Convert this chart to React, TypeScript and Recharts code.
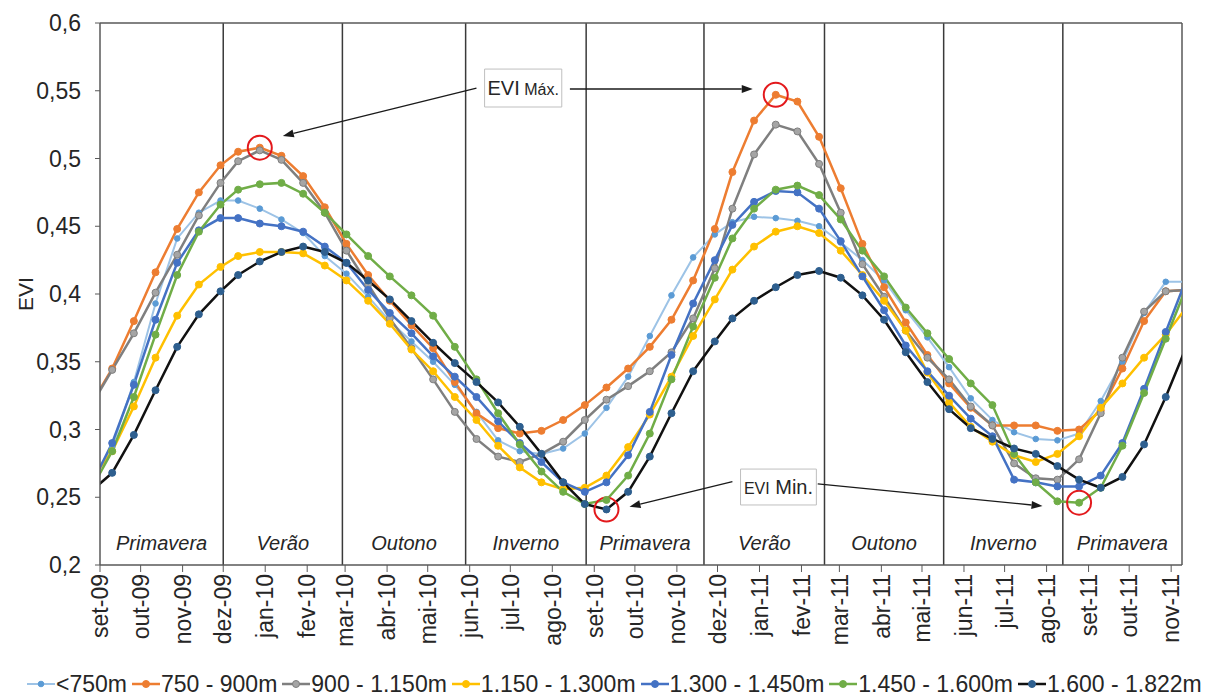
import React from 'react';
import { LineChart, Line, XAxis, YAxis, ReferenceLine, ReferenceArea, ReferenceDot, Legend } from 'recharts';

const FONT = '"Liberation Sans", Arial, sans-serif';
const INK = '#262626';

// composite dates, in days since 1 Sep 2009 (first and last fall just outside the axis)
const days = [
  -7, 9, 25, 41, 57, 73, 89, 102, 118, 134, 150, 166, 182, 198, 214, 230, 246, 262, 278, 294,
  310, 326, 342, 358, 374, 390, 406, 422, 438, 454, 467, 483, 499, 515, 531, 547, 563, 579, 595, 611,
  627, 643, 659, 675, 691, 707, 723, 739, 755, 771, 787, 803,
];

const evi750 = [
  0.262, 0.287, 0.335, 0.393, 0.441, 0.46, 0.469, 0.469, 0.463, 0.455, 0.445, 0.428, 0.415, 0.398, 0.38, 0.365, 0.35, 0.333, 0.313, 0.292,
  0.284, 0.282, 0.286, 0.297, 0.316, 0.339, 0.369, 0.399, 0.427, 0.444, 0.453, 0.457, 0.456, 0.454, 0.45, 0.438, 0.425, 0.41, 0.388, 0.368,
  0.346, 0.323, 0.307, 0.298, 0.293, 0.292, 0.297, 0.321, 0.35, 0.386, 0.409, 0.409,
];
const evi900 = [
  0.318, 0.345, 0.38, 0.416, 0.448, 0.475, 0.495, 0.505, 0.508, 0.502, 0.487, 0.464, 0.437, 0.414, 0.395, 0.377, 0.36, 0.335, 0.312, 0.301,
  0.297, 0.299, 0.307, 0.318, 0.331, 0.345, 0.361, 0.381, 0.41, 0.448, 0.49, 0.528, 0.547, 0.542, 0.516, 0.478, 0.437, 0.405, 0.379, 0.355,
  0.334, 0.316, 0.303, 0.303, 0.303, 0.299, 0.3, 0.314, 0.345, 0.38, 0.402, 0.403,
];
const evi1150 = [
  0.317, 0.344, 0.371, 0.401, 0.429, 0.458, 0.482, 0.498, 0.506, 0.499, 0.482, 0.46, 0.432, 0.407, 0.382, 0.36, 0.337, 0.313, 0.293, 0.28,
  0.276, 0.282, 0.291, 0.307, 0.322, 0.332, 0.343, 0.357, 0.382, 0.419, 0.463, 0.503, 0.525, 0.52, 0.496, 0.46, 0.422, 0.398, 0.373, 0.353,
  0.337, 0.317, 0.303, 0.275, 0.264, 0.263, 0.278, 0.312, 0.353, 0.387, 0.402, 0.403,
];
const evi1300 = [
  0.262, 0.284, 0.317, 0.353, 0.384, 0.407, 0.42, 0.428, 0.431, 0.431, 0.43, 0.421, 0.41, 0.395, 0.378, 0.359, 0.343, 0.324, 0.307, 0.288,
  0.272, 0.261, 0.256, 0.257, 0.266, 0.287, 0.311, 0.339, 0.369, 0.396, 0.418, 0.435, 0.446, 0.45, 0.445, 0.432, 0.414, 0.395, 0.373, 0.342,
  0.32, 0.302, 0.291, 0.281, 0.276, 0.282, 0.295, 0.316, 0.334, 0.353, 0.37, 0.391,
];
const evi1450 = [
  0.258, 0.29, 0.333, 0.381, 0.423, 0.447, 0.456, 0.456, 0.452, 0.45, 0.446, 0.435, 0.423, 0.403, 0.386, 0.371, 0.354, 0.339, 0.324, 0.306,
  0.29, 0.276, 0.261, 0.254, 0.261, 0.281, 0.313, 0.355, 0.393, 0.425, 0.451, 0.468, 0.476, 0.475, 0.463, 0.439, 0.413, 0.388, 0.362, 0.343,
  0.325, 0.308, 0.295, 0.263, 0.261, 0.258, 0.258, 0.266, 0.29, 0.33, 0.372, 0.413,
];
const evi1600 = [
  0.255, 0.284, 0.324, 0.37, 0.414, 0.446, 0.466, 0.477, 0.481, 0.482, 0.474, 0.46, 0.444, 0.428, 0.413, 0.399, 0.384, 0.361, 0.337, 0.312,
  0.289, 0.269, 0.254, 0.245, 0.248, 0.266, 0.297, 0.337, 0.376, 0.412, 0.441, 0.463, 0.477, 0.48, 0.473, 0.455, 0.432, 0.413, 0.39, 0.371,
  0.352, 0.334, 0.318, 0.282, 0.261, 0.247, 0.246, 0.257, 0.288, 0.327, 0.367, 0.407,
];
const evi1822 = [
  0.254, 0.268, 0.296, 0.329, 0.361, 0.385, 0.402, 0.414, 0.424, 0.431, 0.435, 0.431, 0.423, 0.41, 0.396, 0.38, 0.364, 0.349, 0.335, 0.32,
  0.302, 0.282, 0.261, 0.245, 0.241, 0.254, 0.28, 0.312, 0.343, 0.365, 0.382, 0.395, 0.405, 0.414, 0.417, 0.412, 0.399, 0.381, 0.357, 0.335,
  0.315, 0.301, 0.293, 0.286, 0.282, 0.273, 0.263, 0.257, 0.265, 0.289, 0.324, 0.363,
];

// month ticks (days since 1 Sep 2009) and their labels
const monthTicks = [0, 30, 61, 91, 122, 153, 181, 212, 242, 273, 303, 334, 365, 395, 426, 456, 487, 518, 546, 577, 607, 638, 668, 699, 730, 760, 791];
const monthLabels = [
  'set-09', 'out-09', 'nov-09', 'dez-09', 'jan-10', 'fev-10', 'mar-10', 'abr-10', 'mai-10', 'jun-10', 'jul-10', 'ago-10', 'set-10', 'out-10',
  'nov-10', 'dez-10', 'jan-11', 'fev-11', 'mar-11', 'abr-11', 'mai-11', 'jun-11', 'jul-11', 'ago-11', 'set-11', 'out-11', 'nov-11',
];
const xEnd = 799;

const yTicks = [0.2, 0.25, 0.3, 0.35, 0.4, 0.45, 0.5, 0.55, 0.6];
const yTickLabels = ['0,2', '0,25', '0,3', '0,35', '0,4', '0,45', '0,5', '0,55', '0,6'];

const seasonBounds = [0, 91, 179, 270, 359, 446, 535, 623, 711, xEnd];
const seasonNames = ['Primavera', 'Verão', 'Outono', 'Inverno', 'Primavera', 'Verão', 'Outono', 'Inverno', 'Primavera'];

const series = [
  { key: 's1', name: '<750m', values: evi750, stroke: '#9DC3E6', dot: '#5B9BD5', dotStroke: '#5B9BD5', width: 2, r: 2.8 },
  { key: 's2', name: '750 - 900m', values: evi900, stroke: '#ED7D31', dot: '#ED7D31', dotStroke: '#ED7D31', width: 2.5, r: 3.5 },
  { key: 's3', name: '900 - 1.150m', values: evi1150, stroke: '#7F7F7F', dot: '#A5A5A5', dotStroke: '#7F7F7F', width: 2.5, r: 3.5 },
  { key: 's4', name: '1.150 - 1.300m', values: evi1300, stroke: '#FFC000', dot: '#FFC000', dotStroke: '#FFC000', width: 2.5, r: 3.5 },
  { key: 's5', name: '1.300 - 1.450m', values: evi1450, stroke: '#4472C4', dot: '#4472C4', dotStroke: '#4472C4', width: 2.5, r: 3.5 },
  { key: 's6', name: '1.450 - 1.600m', values: evi1600, stroke: '#70AD47', dot: '#70AD47', dotStroke: '#70AD47', width: 2.5, r: 3.5 },
  { key: 's7', name: '1.600 - 1.822m', values: evi1822, stroke: '#111111', dot: '#2E5F8F', dotStroke: '#2E5F8F', width: 2.5, r: 3.5 },
];

const data = days.map((d, i) => {
  const row: { [k: string]: number } = { d };
  series.forEach(s => { row[s.key] = s.values[i]; });
  return row;
});

// annotation anchors, in data units
const maxBox = { x1: 284, x2: 341, y1: 0.538, y2: 0.566 };
const minBox = { x1: 473, x2: 529, y1: 0.2443, y2: 0.2708 };
const arrows = [
  [{ x: 278, y: 0.552 }, { x: 135, y: 0.5166 }],
  [{ x: 347, y: 0.5513 }, { x: 482, y: 0.5513 }],
  [{ x: 467, y: 0.2615 }, { x: 391, y: 0.243 }],
  [{ x: 530, y: 0.2598 }, { x: 696, y: 0.2435 }],
];
const circled = [
  { x: days[8], y: evi900[8] },
  { x: days[32], y: evi900[32] },
  { x: days[24], y: evi1822[24] },
  { x: days[46], y: evi1600[46] },
];

const MonthTick = ({ x, y, payload }: any) => {
  const label = monthLabels[monthTicks.indexOf(payload.value)];
  return (
    <text x={x} y={y} transform={`rotate(-90 ${x} ${y})`} textAnchor="end" dy="0.36em"
      fontSize={23} fill={INK} fontFamily={FONT}>
      {label}
    </text>
  );
};

const Arrow = (props: any) => {
  const { x1, y1, x2, y2 } = props;
  const a = Math.atan2(y2 - y1, x2 - x1);
  const len = 11;
  const w = 4;
  const bx = x2 - len * Math.cos(a);
  const by = y2 - len * Math.sin(a);
  const pts = `${x2},${y2} ${bx + w * Math.sin(a)},${by - w * Math.cos(a)} ${bx - w * Math.sin(a)},${by + w * Math.cos(a)}`;
  return (
    <g>
      <line x1={x1} y1={y1} x2={bx} y2={by} stroke="#1a1a1a" strokeWidth={1.3} />
      <polygon points={pts} fill="#1a1a1a" />
    </g>
  );
};

const seasonLabel = (name: string) => ({ viewBox }: any) => (
  <text x={viewBox.x + viewBox.width / 2} y={viewBox.y + viewBox.height - 15} textAnchor="middle"
    fontSize={20} fontStyle="italic" fill={INK} fontFamily={FONT}>
    {name}
  </text>
);

const boxLabel = (first: string, firstSize: number, second: string, secondSize: number) => ({ viewBox }: any) => (
  <text x={viewBox.x + viewBox.width / 2} y={viewBox.y + viewBox.height / 2 + 7} textAnchor="middle"
    fill={INK} fontFamily={FONT}>
    <tspan fontSize={firstSize}>{first}</tspan>
    <tspan fontSize={secondSize}>{' ' + second}</tspan>
  </text>
);

const renderLegend = () => (
  <div style={{ display: 'flex', alignItems: 'center', height: 30, width: 1212, paddingLeft: 27, boxSizing: 'border-box',
    fontFamily: FONT, fontSize: 23, color: INK, whiteSpace: 'nowrap' }}>
    {series.map(s => (
      <div key={s.key} style={{ display: 'flex', alignItems: 'center', marginRight: 5 }}>
        <svg width={28} height={12} style={{ marginRight: 1 }}>
          <line x1={0} y1={6} x2={28} y2={6} stroke={s.stroke} strokeWidth={s.width} />
          <circle cx={14} cy={6} r={s.r} fill={s.dot} stroke={s.dotStroke} />
        </svg>
        <span>{s.name}</span>
      </div>
    ))}
  </div>
);

export default function App() {
  return (
    <div style={{ position: 'absolute', left: 0, top: 0, background: '#fff' }}>
      <LineChart width={1212} height={699} data={data} margin={{ top: 23, right: 30, bottom: 0, left: 0 }}>
        <XAxis dataKey="d" type="number" domain={[0, xEnd]} allowDataOverflow ticks={monthTicks} interval={0}
          tick={(p: any) => <MonthTick {...p} />} tickSize={7} tickMargin={2} height={104}
          axisLine={{ stroke: '#595959', strokeWidth: 1.5 }} tickLine={{ stroke: '#595959' }} />
        <YAxis type="number" domain={[0.2, 0.6]} allowDataOverflow ticks={yTicks} interval={0} width={100}
          tickFormatter={(v: number) => yTickLabels[yTicks.indexOf(v)]} tickSize={5} tickMargin={14}
          tick={{ fontSize: 23, fill: INK, fontFamily: FONT }}
          axisLine={{ stroke: '#595959', strokeWidth: 1.5 }} tickLine={{ stroke: '#595959' }}
          label={{
            content: ({ viewBox }: any) => {
              const cx = viewBox.x + 25;
              const cy = viewBox.y + viewBox.height / 2;
              return (
                <text x={cx} y={cy} transform={`rotate(-90 ${cx} ${cy})`} textAnchor="middle" dy="0.36em"
                  fontSize={21} fill={INK} fontFamily={FONT}>EVI</text>
              );
            },
          }} />
        {seasonNames.map((n, i) => (
          <ReferenceArea key={'sa' + i} x1={seasonBounds[i]} x2={seasonBounds[i + 1]} fill="none" fillOpacity={0}
            stroke="none" label={{ content: seasonLabel(n) }} />
        ))}
        {seasonBounds.slice(1, -1).map((b, i) => (
          <ReferenceLine key={'sl' + i} x={b} stroke="#3a3a3a" strokeWidth={1.5} />
        ))}
        <ReferenceLine y={0.6} stroke="#595959" strokeWidth={1.5} />
        <ReferenceLine x={xEnd} stroke="#595959" strokeWidth={1.5} />
        {series.map(s => (
          <Line key={s.key} type="linear" dataKey={s.key} name={s.name} stroke={s.stroke} strokeWidth={s.width}
            dot={{ r: s.r, fill: s.dot, stroke: s.dotStroke, strokeWidth: 1 }} activeDot={false}
            isAnimationActive={false} />
        ))}
        <ReferenceArea x1={maxBox.x1} x2={maxBox.x2} y1={maxBox.y1} y2={maxBox.y2} fill="#fff" fillOpacity={1}
          stroke="#BFBFBF" strokeWidth={1} label={{ content: boxLabel('EVI', 20, 'Máx.', 16) }} />
        <ReferenceArea x1={minBox.x1} x2={minBox.x2} y1={minBox.y1} y2={minBox.y2} fill="#fff" fillOpacity={1}
          stroke="#BFBFBF" strokeWidth={1} label={{ content: boxLabel('EVI', 16, 'Min.', 20) }} />
        {arrows.map((seg, i) => (
          <ReferenceLine key={'ar' + i} segment={seg} shape={(p: any) => <Arrow {...p} />} />
        ))}
        {circled.map((c, i) => (
          <ReferenceDot key={'c' + i} x={c.x} y={c.y} r={12} fill="none" stroke="#E3191C" strokeWidth={2} />
        ))}
        <Legend verticalAlign="bottom" align="left" content={renderLegend} wrapperStyle={{ left: 0, bottom: 0 }} />
      </LineChart>
    </div>
  );
}
